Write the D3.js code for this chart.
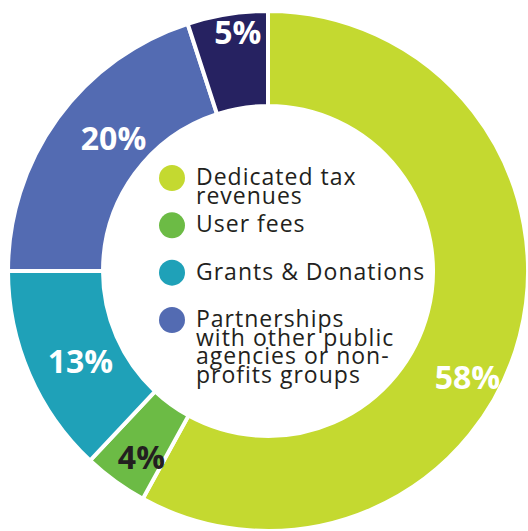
<!DOCTYPE html>
<html>
<head>
<meta charset="utf-8">
<script src="https://cdn.jsdelivr.net/npm/d3@7"></script>
<style>
  body { margin: 0; background: #fff; }
  svg { display: block; }
</style>
</head>
<body>
<svg id="chart" width="528" height="531"></svg>
<script>
// funding sources, clockwise from 12 o'clock
var categories = ["Dedicated tax revenues", "User fees", "Grants & Donations", "Partnerships", "Other"];
var values = [58, 4, 13, 20, 5];
var colors = ["#c4d930", "#6cbb45", "#1fa1b8", "#536bb2", "#262261"];
var labelColors = ["#fff", "#231f20", "#fff", "#fff", "#fff"];

// legend (4 entries, some on several lines)
var legendLines = [
    ["Dedicated tax", "revenues"],
    ["User fees"],
    ["Grants & Donations"],
    ["Partnerships", "with other public", "agencies or non-", "profits groups"]
];

var svg = d3.select("#chart");
var cx = 268, cy = 271;
var outerR = 260, innerR = 165;

var pie = d3.pie().sort(null).value(function(d){ return d; });
var arcs = pie(values);

var arc = d3.arc().innerRadius(innerR).outerRadius(outerR);

var g = svg.append("g").attr("transform", "translate(" + cx + "," + cy + ")");

g.selectAll("path")
    .data(arcs)
    .enter().append("path")
    .attr("d", arc)
    .attr("fill", function(d, i){ return colors[i]; })
    .attr("stroke", "#fff")
    .attr("stroke-width", 4)
    .attr("stroke-linejoin", "miter");

// labels sit a bit off the centroid in the original
var nudge = [[-6, 53], [-2, 14], [7, 5], [17, -9], [3, -30]];
var labelArc = d3.arc().innerRadius(212).outerRadius(212);

g.selectAll("text.pct")
    .data(arcs)
    .enter().append("text")
    .attr("class", "pct")
    .attr("x", function(d, i){ return labelArc.centroid(d)[0] + nudge[i][0]; })
    .attr("y", function(d, i){ return labelArc.centroid(d)[1] + nudge[i][1]; })
    .attr("text-anchor", "middle")
    .attr("dominant-baseline", "central")
    .attr("font-family", "'Open Sans', sans-serif")
    .attr("font-weight", 700)
    .attr("font-size", 32)
    .attr("fill", function(d, i){ return labelColors[i]; })
    .text(function(d){ return d.data + "%"; });

// legend
var legendY = d3.scalePoint().domain(d3.range(legendLines.length)).range([178, 320]);
var legend = svg.append("g");

legendLines.forEach(function(lines, i){
    var y = legendY(i);
    legend.append("circle")
        .attr("cx", 172)
        .attr("cy", y)
        .attr("r", 13)
        .attr("fill", colors[i]);
    var t = legend.append("text")
        .attr("x", 196)
        .attr("y", y + 7)
        .attr("font-family", "'Open Sans', sans-serif")
        .attr("font-size", 23)
        .attr("letter-spacing", 1)
        .attr("fill", "#231f20");
    lines.forEach(function(line, j){
        t.append("tspan")
            .attr("x", 196)
            .attr("dy", j == 0 ? 0 : 18.5)
            .text(line);
    });
});
</script>
</body>
</html>
